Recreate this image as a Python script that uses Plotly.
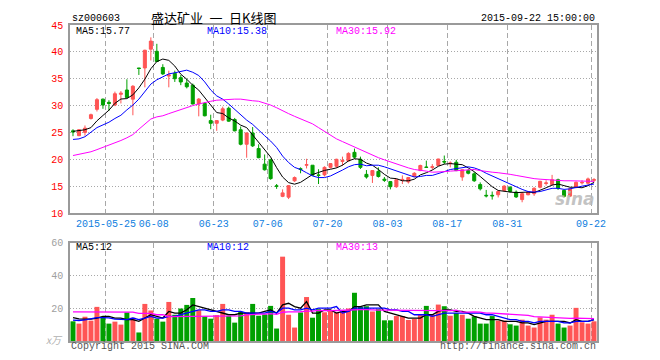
import plotly.graph_objects as go

# ---------------- data ----------------
dates = ["2015-05-15","2015-05-18","2015-05-19","2015-05-20","2015-05-21","2015-05-22",
         "2015-05-25","2015-05-26","2015-05-27","2015-05-28","2015-06-02","2015-06-03",
         "2015-06-04","2015-06-05","2015-06-08","2015-06-09","2015-06-10","2015-06-11",
         "2015-06-12","2015-06-15","2015-06-16","2015-06-17","2015-06-18","2015-06-19",
         "2015-06-23","2015-06-24","2015-06-25","2015-06-26","2015-06-29","2015-06-30",
         "2015-07-01","2015-07-02","2015-07-03","2015-07-06","2015-07-07","2015-07-08",
         "2015-07-09","2015-07-10","2015-07-13","2015-07-14","2015-07-15","2015-07-16",
         "2015-07-17","2015-07-20","2015-07-21","2015-07-22","2015-07-23","2015-07-24",
         "2015-07-27","2015-07-28","2015-07-29","2015-07-30","2015-07-31","2015-08-03",
         "2015-08-04","2015-08-05","2015-08-06","2015-08-07","2015-08-10","2015-08-11",
         "2015-08-12","2015-08-13","2015-08-14","2015-08-17","2015-08-18","2015-08-19",
         "2015-08-20","2015-08-21","2015-08-24","2015-08-25","2015-08-26","2015-08-27",
         "2015-08-28","2015-08-31","2015-09-01","2015-09-02","2015-09-07","2015-09-08",
         "2015-09-09","2015-09-10","2015-09-11","2015-09-14","2015-09-15","2015-09-16",
         "2015-09-17","2015-09-18","2015-09-21","2015-09-22"]

open_ = [25.3,24.4,25.0,27.6,29.3,31.2,30.6,30.1,32.1,32.9,31.2,37.0,37.0,40.5,40.1,37.1,35.5,36.0,35.2,34.2,
         33.8,30.3,30.4,27.2,26.7,27.3,29.5,27.4,25.5,22.8,24.9,22.0,19.1,19.9,15.05,13.1,12.95,16.0,18.25,18.9,
         18.9,17.1,17.1,18.5,18.7,19.6,19.7,21.3,20.0,17.2,17.0,17.75,16.3,15.85,14.9,16.1,15.8,16.8,17.9,18.55,
         18.5,18.85,19.6,19.2,19.45,16.7,17.9,17.3,15.3,13.3,13.3,13.4,14.2,14.8,13.9,12.5,13.4,13.6,14.8,15.5,
         15.3,16.2,14.2,13.15,14.8,15.6,15.55,16.1]
high = [25.6,25.6,26.3,28.5,31.4,31.3,31.0,32.6,32.7,34.9,33.8,37.0,40.4,42.7,41.5,37.7,36.5,36.5,35.7,35.0,
        34.1,31.4,30.6,28.3,27.3,29.8,29.8,27.7,26.1,25.0,26.0,22.8,20.9,20.1,15.4,14.4,15.2,16.8,18.5,20.1,
        18.9,18.15,18.7,19.3,20.1,20.5,21.3,22.0,20.5,18.0,18.0,18.5,16.7,15.9,16.3,17.0,16.7,17.6,19.0,19.75,
        19.1,20.1,20.7,19.6,19.9,18.1,18.2,17.6,15.7,14.3,14.0,14.2,15.2,15.0,14.2,13.9,14.1,14.8,16.0,16.1,
        17.1,16.4,14.3,14.6,15.9,16.1,16.6,16.5]
low = [24.3,24.3,24.4,27.4,28.9,29.4,29.0,29.9,30.4,31.4,28.2,35.7,33.4,38.4,38.1,35.7,33.4,34.4,33.8,33.2,
       30.2,28.0,28.0,25.6,25.3,27.1,27.0,25.2,22.6,20.3,22.3,20.2,17.9,16.2,14.5,12.95,12.6,15.8,17.4,18.3,
       17.0,15.4,16.8,18.3,18.4,18.8,19.6,20.1,18.2,16.4,15.6,16.6,15.8,14.4,14.7,15.4,15.5,16.7,17.8,18.4,
       18.1,18.8,19.1,18.5,17.8,16.0,17.2,15.8,14.2,12.9,12.5,12.9,14.0,13.8,12.8,12.0,13.3,13.2,14.6,15.1,
       15.1,14.3,12.9,13.0,14.6,15.3,15.3,15.7]
close = [25.1,25.5,25.8,28.3,31.1,30.1,30.4,32.2,32.3,31.5,33.6,36.9,40.3,42.0,38.2,35.9,35.7,35.0,34.4,33.5,
         30.3,31.2,28.1,26.7,27.2,29.4,27.1,25.3,22.8,24.9,22.5,20.3,18.05,16.4,15.0,13.75,15.1,16.6,18.1,19.0,
         17.05,17.0,18.5,19.2,20.0,19.8,21.1,20.4,18.5,16.7,17.9,16.8,16.1,14.9,16.2,16.25,16.6,17.4,18.85,18.5,
         18.6,20.05,19.5,19.3,17.9,18.05,17.4,16.0,14.5,13.2,13.2,14.0,15.0,14.0,13.0,13.6,13.9,14.6,15.9,15.6,
         16.2,14.6,13.1,14.5,15.7,15.7,16.35,16.2]

# price moving averages (as drawn on the reference)
ma5 = [25.2,25.3,25.5,25.9,27.16,28.16,29.14,30.42,31.22,31.3,32.0,33.3,34.92,36.86,38.2,38.66,38.42,37.36,
       35.84,34.9,33.78,32.88,31.5,29.96,28.7,28.52,27.7,27.14,26.36,25.9,24.52,23.16,21.71,20.43,18.45,16.7,
       15.66,15.37,15.71,16.51,17.17,17.55,17.93,18.15,18.4,18.9,19.7,20.1,20.0,19.3,18.9,18.1,17.2,16.5,16.4,
       16.0,16.0,16.3,17.1,17.5,18.0,18.7,19.1,19.2,19.1,19.0,18.4,17.7,16.8,15.8,14.9,14.2,14.0,13.9,13.8,
       13.9,13.9,13.8,14.2,14.7,15.2,15.4,15.1,14.8,14.8,14.7,15.1,15.7]
ma10 = [23.7,23.8,24.2,25.0,25.9,26.4,26.9,27.6,28.2,29.2,30.1,31.2,32.7,34.0,34.8,35.3,35.9,36.1,36.4,36.6,
        36.2,35.6,34.4,32.9,31.8,31.2,30.3,29.3,28.2,27.3,26.5,25.4,24.4,23.4,22.2,20.6,19.4,18.5,18.1,17.5,
        16.9,16.6,16.6,16.9,17.4,18.0,18.6,19.0,19.1,18.8,18.9,18.9,18.6,18.2,17.8,17.5,17.0,16.7,16.8,17.0,
        17.0,17.3,17.7,18.1,18.3,18.5,18.6,18.4,18.0,17.4,16.9,16.3,15.9,15.3,14.8,14.4,14.0,13.9,14.0,14.3,
        14.6,14.6,14.4,14.5,14.8,15.0,15.2,15.4]
ma30 = [20.7,20.9,21.1,21.4,21.8,22.2,22.7,23.1,23.5,24.0,24.6,25.6,26.6,27.5,27.9,28.1,28.5,28.9,29.3,29.6,
        30.0,30.3,30.6,30.8,31.0,31.1,31.2,31.2,31.2,31.0,30.9,30.8,30.5,30.1,29.6,29.0,28.5,28.0,27.5,27.1,
        26.6,25.9,25.2,24.4,23.8,23.3,22.8,22.3,21.8,21.2,20.8,20.3,19.9,19.5,19.1,18.7,18.4,18.1,18.0,17.8,
        17.6,17.6,17.7,17.8,17.9,18.0,18.1,18.1,17.9,17.7,17.6,17.5,17.4,17.2,17.0,16.8,16.5,16.4,16.3,16.2,
        16.2,16.1,16.0,16.0,16.0,15.9,15.9,15.9]

volume = [12.0,10.6,14.8,12.4,20.8,14.4,10.6,11.8,10.0,17.4,14.2,5.2,22.6,18.6,13.6,11.8,23.8,16.0,19.8,22.0,
          26.2,18.8,15.0,13.6,15.8,22.6,15.4,11.2,17.8,17.4,22.6,15.4,16.2,21.4,7.6,51.4,16.0,8.2,17.4,26.8,
          14.2,19.4,17.5,18.8,17.4,17.8,19.8,29.4,20.8,21.2,18.0,19.4,12.6,12.6,15.2,15.2,12.8,13.4,15.8,21.4,
          16.0,22.2,21.2,15.4,17.0,16.0,13.6,15.0,10.6,10.6,15.2,12.4,12.4,10.2,9.4,13.0,9.4,8.2,14.4,13.0,
          16.0,10.6,8.2,9.4,20.2,11.4,10.6,12.0]
vol_ma5 = [14.3,13.5,13.3,13.3,14,15,15,14,14,13,13,12,14,16,15,14,18,17,17,19,22,21,20,19,18,17,16,16,17,17,
           17,17,18,19,17,22,23,21,20,24,17,17,19,19,17,18,18,21,21,22,22,22,18,17,16,15,14,14,14,16,16,18,19,
           19,18,18,17,15,14,13,13,13,12,12,12,11,11,10,11,12,12,12,12,11,13,12,12,13]
vol_ma10 = [12.7,12.5,12.9,13.5,14.3,14.3,14.1,13.3,13.1,13,14,13,14,15,14,14,15,15,16,17,18,19,19,18,18,19,
            19,18,18,17,17,17,17,18,17,20,20,19,19,20,19,20,20,20,21,17,18,20,20,20,20,20,20,19,19,18,18,16,16,
            16,15,16,17,17,17,17,17,17,17,16,16,15,14,13,13,12,12,11,12,12,12,12,11,11,12,12,12,13]
vol_ma30 = [17.8,17.8,17.8,17.8,17.8,17.8,17.6,17.6,17.6,17.6,17.6,16.8,16.8,16.8,16.0,16.0,14.9,14.9,14.9,
            14.9,14.9,14.9,14.9,14.9,14.9,14.9,15.3,15.3,15.3,15.87,16.23,16.39,16.43,16.73,16.29,17.53,17.71,
            17.59,17.83,18.15,18.15,18.62,18.45,18.46,18.58,18.78,18.65,19.1,19.13,19.1,18.83,18.85,18.77,18.74,
            18.72,18.47,18.38,18.46,18.39,18.52,18.3,18.53,18.7,18.5,18.81,17.63,17.55,17.78,17.55,17.01,17.04,
            16.81,16.64,16.35,16.09,15.93,15.58,14.87,14.66,14.39,14.32,14.03,13.88,13.77,13.94,13.81,13.74,13.69]

tick_dates = ["2015-05-25","2015-06-08","2015-06-23","2015-07-06","2015-07-20",
              "2015-08-03","2015-08-17","2015-08-31","2015-09-22"]
tick_labels = ["2015-05-25","06-08","06-23","07-06","07-20","08-03","08-17","08-31","09-22"]

price_ma_labels = ["MA5:15.77", "MA10:15.38", "MA30:15.92"]
vol_ma_labels = ["MA5:12", "MA10:12", "MA30:13"]

# ---------------- styling ----------------
RED = "#ff5555"
GREEN = "#00a000"
MONO = "Liberation Mono, DejaVu Sans Mono, monospace"
CJK = "Noto Sans CJK SC, sans-serif"
FRAME = "#9a9a9a"
GRID = "#a8a8a8"

OFF = 8                       # default page margin of the html body
FW, FH = 660 - OFF, 360 - OFF
X0, X1, Y0, Y1 = 70, 597, 20, 341   # plot area in window pixels


def px_x(px):
    return (px - X0) / (X1 - X0)


def px_y(py):
    return (Y1 - py) / (Y1 - Y0)


x_idx = list(range(len(dates)))
tick_pos = [dates.index(d) - 0.5 for d in tick_dates]
vol_colors = [RED if c >= o else GREEN for o, c in zip(open_, close)]

fig = go.Figure()

fig.add_trace(go.Candlestick(
    x=x_idx, open=open_, high=high, low=low, close=close,
    increasing=dict(line=dict(color=RED, width=1), fillcolor=RED),
    decreasing=dict(line=dict(color=GREEN, width=1), fillcolor=GREEN),
    whiskerwidth=0, hoverinfo="skip", showlegend=False, xaxis="x", yaxis="y"))

for series, col in ((ma5, "#000000"), (ma10, "#0000ff"), (ma30, "#ff00ff")):
    fig.add_trace(go.Scatter(x=x_idx, y=series, mode="lines", line=dict(color=col, width=1),
                             hoverinfo="skip", showlegend=False, xaxis="x", yaxis="y"))

fig.add_trace(go.Bar(x=x_idx, y=volume, marker=dict(color=vol_colors, line=dict(width=0)),
                     hoverinfo="skip", showlegend=False, xaxis="x2", yaxis="y2"))

for series, col in ((vol_ma5, "#000000"), (vol_ma10, "#0000ff"), (vol_ma30, "#ff00ff")):
    fig.add_trace(go.Scatter(x=x_idx, y=series, mode="lines", line=dict(color=col, width=1.3),
                             hoverinfo="skip", showlegend=False, xaxis="x2", yaxis="y2"))

xcommon = dict(range=[-0.5, len(dates) - 0.5], tickmode="array", tickvals=tick_pos,
               showgrid=True, gridcolor=GRID, griddash="5px,3px", gridwidth=1,
               showline=True, mirror=True, linecolor=FRAME, linewidth=1.5,
               ticks="", zeroline=False, fixedrange=True)

fig.update_layout(
    width=FW, height=FH,
    margin=dict(l=X0 - OFF, r=FW - (X1 - OFF), t=Y0 - OFF, b=FH - (Y1 - OFF), pad=0),
    paper_bgcolor="white", plot_bgcolor="white",
    font=dict(family=MONO, size=10, color="#000000"),
    boxgap=0.28, bargap=0.17,
    showlegend=False,
    xaxis=dict(xcommon, anchor="y", ticktext=tick_labels, rangeslider=dict(visible=False),
               tickfont=dict(family=MONO, size=10, color="#1080e0")),
    xaxis2=dict(xcommon, anchor="y2", matches="x", showticklabels=False),
    yaxis=dict(domain=[px_y(211), 1], range=[10, 45], dtick=5, tick0=10,
               showgrid=True, gridcolor=GRID, griddash="1px,2px", gridwidth=1,
               showline=True, mirror=True, linecolor=FRAME, linewidth=1.5,
               ticks="outside", ticklen=3, tickcolor="rgba(0,0,0,0)",
               tickfont=dict(family=MONO, size=10, color="#ff0000"),
               zeroline=False, fixedrange=True),
    yaxis2=dict(domain=[0, px_y(241)], range=[0, 60], tickmode="array", tickvals=[20, 40, 60],
                showgrid=True, gridcolor=GRID, griddash="1px,2px", gridwidth=1,
                showline=True, mirror=True, linecolor=FRAME, linewidth=1.5,
                ticks="outside", ticklen=3, tickcolor="rgba(0,0,0,0)",
                tickfont=dict(family=MONO, size=10, color="#a0a0a0"),
                zeroline=False, fixedrange=True),
)


def note(text, px, py, xanchor="left", color="#000000", size=10, family=MONO, **kw):
    fig.add_annotation(text=text, x=px_x(px), y=px_y(py), xref="paper", yref="paper",
                       xanchor=xanchor, yanchor="middle", showarrow=False,
                       font=dict(family=family, size=size, color=color), **kw)


note("sz000603", 70, 13)
note("盛达矿业\u2002一\u2002日K线图", 213, 12, xanchor="center", size=13, family=CJK)
note("2015-09-22 15:00:00", 597, 13, xanchor="right")

ma_cols = ["#000000", "#0000ff", "#ff00ff"]
for lbl, col, xpos in zip(price_ma_labels, ma_cols, (74, 205, 334)):
    note(lbl, xpos, 27, color=col)
for lbl, col, xpos in zip(vol_ma_labels, ma_cols, (74, 205, 334)):
    note(lbl, xpos, 246, color=col)

note("<i>x万</i>", 65, 339, xanchor="right", color="#b0b0b0", size=10, family=CJK)
note("Copyright 2015 SINA.COM", 69, 347, color="#555555")
note("http://finance.sina.com.cn", 598, 347, xanchor="right", color="#555555")
note("<b><i>sina</i></b>", 597, 197, xanchor="right", color="rgba(185,185,185,0.85)", size=17,
     family="DejaVu Sans, sans-serif")

fig.write_html("out.html")
